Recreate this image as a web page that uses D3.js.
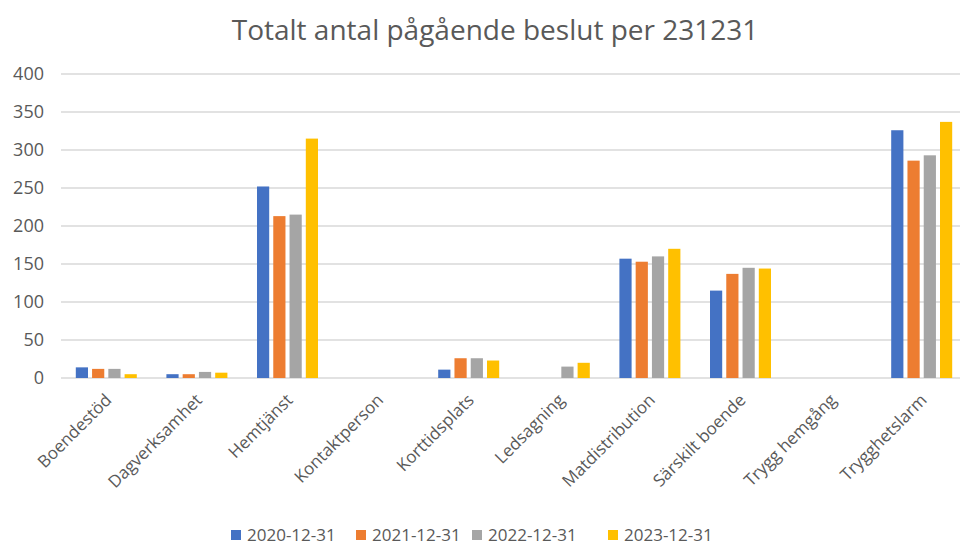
<!DOCTYPE html>
<html>
<head>
<meta charset="utf-8">
<script src="https://cdn.jsdelivr.net/npm/d3@7"></script>
<style>
  body { margin: 0; background: #fff; }
  text { font-family: "Open Sans", sans-serif; fill: #595959; }
</style>
</head>
<body>
<div id="chart"></div>
<script>
var categories = ["Boendestöd", "Dagverksamhet", "Hemtjänst", "Kontaktperson", "Korttidsplats",
                  "Ledsagning", "Matdistribution", "Särskilt boende", "Trygg hemgång", "Trygghetslarm"];
var seriesNames = ["2020-12-31", "2021-12-31", "2022-12-31", "2023-12-31"];
var v2020 = [14, 5, 252, 0, 11, 0, 157, 115, 0, 326];
var v2021 = [12, 5, 213, 0, 26, 0, 153, 137, 0, 286];
var v2022 = [12, 8, 215, 0, 26, 15, 160, 145, 0, 293];
var v2023 = [5, 7, 315, 0, 23, 20, 170, 144, 0, 337];
var yTicks = [0, 50, 100, 150, 200, 250, 300, 350, 400];
var colors = ["#4472C4", "#ED7D31", "#A5A5A5", "#FFC000"];

var width = 960, height = 546;
var plotLeft = 61, plotRight = 967, plotTop = 74, plotBottom = 378;
var values = [v2020, v2021, v2022, v2023];

var svg = d3.select("#chart").append("svg")
    .attr("width", width)
    .attr("height", height);

var x = d3.scaleBand().domain(categories).range([plotLeft, plotRight]);
var groupW = 61;
var xs = d3.scaleBand().domain(d3.range(4)).range([0, groupW]).paddingInner(0.25);
var y = d3.scaleLinear().domain([0, 400]).range([plotBottom, plotTop]);

// gridlines
svg.append("g").selectAll("line")
    .data(yTicks)
  .enter().append("line")
    .attr("x1", plotLeft).attr("x2", plotRight)
    .attr("y1", function(d){ return y(d); })
    .attr("y2", function(d){ return y(d); })
    .attr("stroke", "#D9D9D9")
    .attr("stroke-width", 1.5);

// y labels
svg.append("g").selectAll("text")
    .data(yTicks)
  .enter().append("text")
    .attr("x", 44)
    .attr("y", function(d){ return y(d); })
    .attr("dy", ".35em")
    .attr("text-anchor", "end")
    .style("font-size", "18px")
    .text(function(d){ return d; });

// bars
categories.forEach(function(c, ci){
  var g = svg.append("g")
      .attr("transform", "translate(" + (x(c) + (x.bandwidth() - groupW) / 2) + ",0)");
  g.selectAll("rect")
      .data(values.map(function(s, si){ return { s: si, v: s[ci] }; }))
    .enter().append("rect")
      .attr("x", function(d){ return xs(d.s); })
      .attr("width", xs.bandwidth())
      .attr("y", function(d){ return y(d.v); })
      .attr("height", function(d){ return y(0) - y(d.v); })
      .attr("fill", function(d){ return colors[d.s]; });
});

// x labels
svg.append("g").selectAll("text")
    .data(categories)
  .enter().append("text")
    .attr("transform", function(d){ return "translate(" + (x(d) + x.bandwidth() / 2 + 2) + "," + 397 + ") rotate(-45)"; })
    .attr("text-anchor", "end")
    .attr("dy", ".35em")
    .style("font-size", "17px")
    .text(function(d){ return d; });

// title
svg.append("text")
    .attr("x", 495)
    .attr("y", 40)
    .attr("text-anchor", "middle")
    .style("font-size", "28px")
    .text("Totalt antal pågående beslut per 231231");

// legend
var legendX = [231, 356, 472, 608];
var lg = svg.append("g").selectAll("g")
    .data(seriesNames)
  .enter().append("g")
    .attr("transform", function(d, i){ return "translate(" + legendX[i] + ",535)"; });
lg.append("rect")
    .attr("x", 0).attr("y", -5)
    .attr("width", 10).attr("height", 10)
    .attr("fill", function(d, i){ return colors[i]; });
lg.append("text")
    .attr("x", 16)
    .attr("dy", ".35em")
    .style("font-size", "17px")
    .text(function(d){ return d; });
</script>
</body>
</html>
